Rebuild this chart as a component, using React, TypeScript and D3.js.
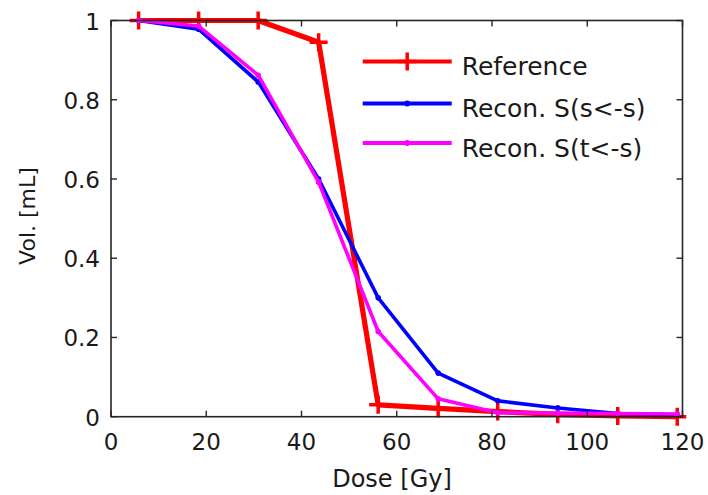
import React from 'react';
import * as d3 from 'd3';

const doses = [5.8, 18.4, 30.9, 43.6, 56.1, 68.7, 81.2, 93.8, 106.4, 118.9];
const reference = [1, 1, 1, 0.945, 0.03, 0.021, 0.013, 0.006, 0.002, 0];
const reconSS = [1, 0.978, 0.845, 0.6, 0.3, 0.11, 0.04, 0.022, 0.008, 0.005];
const reconTS = [1, 0.986, 0.862, 0.592, 0.215, 0.045, 0.01, 0.009, 0.008, 0.007];
const xTicks = [0, 20, 40, 60, 80, 100, 120];
const yTicks = [0, 0.2, 0.4, 0.6, 0.8, 1];
const yTickLabels = ['0', '0.2', '0.4', '0.6', '0.8', '1'];
const seriesNames = ['Reference', 'Recon. S(s<-s)', 'Recon. S(t<-s)'];
const xLabel = 'Dose [Gy]';
const yLabel = 'Vol. [mL]';

const W = 708;
const H = 495;
const L = 111, R = 682.5, T = 20.5, B = 416.7;
const FONT = '"DejaVu Sans", sans-serif';
const AX = '#262626';

export default function App() {
  const x = d3.scaleLinear().domain([0, 120]).range([L, R]);
  const y = d3.scaleLinear().domain([0, 1]).range([B, T]);
  const line = d3.line<number>().x((_, i) => x(doses[i])).y((d) => y(d));

  const series = [
    { name: seriesNames[0], values: reference, color: '#ff0000', width: 5.2, marker: 'plus' },
    { name: seriesNames[1], values: reconSS, color: '#0000ff', width: 3.6, marker: 'dot' },
    { name: seriesNames[2], values: reconTS, color: '#ff00ff', width: 3.6, marker: 'dot' },
  ];

  const plus = 'M-9,0H9M0,-9V9';
  const legendX0 = 362.7, legendX1 = 451.7, legendRows = [61.5, 103.5, 143];

  return (
    <svg width={W} height={H} style={{ position: 'absolute', left: 0, top: 0, background: '#fff' }}>
      <rect x={0} y={0} width={W} height={H} fill="#fff" />
      {series.map((s) => (
        <g key={s.name}>
          <path d={line(s.values) || ''} fill="none" stroke={s.color} strokeWidth={s.width} strokeLinejoin="round" />
          {s.values.map((v, i) =>
            s.marker === 'plus' ? (
              <path key={i} d={plus} transform={`translate(${x(doses[i])},${y(v)})`} stroke={s.color} strokeWidth={3.5} fill="none" />
            ) : (
              <circle key={i} cx={x(doses[i])} cy={y(v)} r={2.8} fill={s.color} />
            )
          )}
        </g>
      ))}
      <rect x={L} y={T} width={R - L} height={B - T} fill="none" stroke={AX} strokeWidth={1.6} />
      {xTicks.map((t) => (
        <g key={'x' + t}>
          <line x1={x(t)} x2={x(t)} y1={B} y2={B - 6} stroke={AX} strokeWidth={1.4} />
          <line x1={x(t)} x2={x(t)} y1={T} y2={T + 6} stroke={AX} strokeWidth={1.4} />
          <text x={x(t)} y={450} textAnchor="middle" fontFamily={FONT} fontSize={23} fill="#1a1a1a">{t}</text>
        </g>
      ))}
      {yTicks.map((t, i) => (
        <g key={'y' + t}>
          <line x1={L} x2={L + 6} y1={y(t)} y2={y(t)} stroke={AX} strokeWidth={1.4} />
          <line x1={R} x2={R - 6} y1={y(t)} y2={y(t)} stroke={AX} strokeWidth={1.4} />
          <text x={100} y={y(t) + 9} textAnchor="end" fontFamily={FONT} fontSize={23} fill="#1a1a1a">{yTickLabels[i]}</text>
        </g>
      ))}
      <text x={392} y={487} textAnchor="middle" fontFamily={FONT} fontSize={24} fill="#1a1a1a">{xLabel}</text>
      <text transform="translate(35,216) rotate(-90)" textAnchor="middle" fontFamily={FONT} fontSize={22} fill="#1a1a1a">{yLabel}</text>
      {series.map((s, i) => (
        <g key={'lg' + i}>
          <line x1={legendX0} x2={legendX1} y1={legendRows[i]} y2={legendRows[i]} stroke={s.color} strokeWidth={3.8} />
          {s.marker === 'plus' ? (
            <path d={plus} transform={`translate(${(legendX0 + legendX1) / 2},${legendRows[i]})`} stroke={s.color} strokeWidth={3.5} fill="none" />
          ) : (
            <circle cx={(legendX0 + legendX1) / 2} cy={legendRows[i]} r={3} fill={s.color} />
          )}
          <text x={461.7} y={legendRows[i] + 13.5} fontFamily={FONT} fontSize={25} fill="#1a1a1a">{s.name}</text>
        </g>
      ))}
    </svg>
  );
}
